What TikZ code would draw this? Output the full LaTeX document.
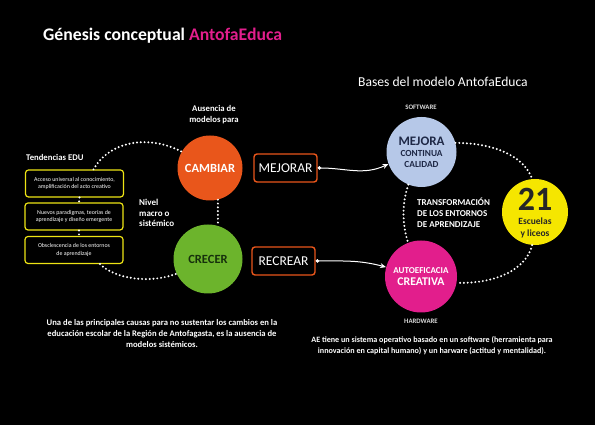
\documentclass[tikz,border=0pt]{standalone}
\usepackage{fontspec}
\setmainfont{Carlito}
\usetikzlibrary{arrows.meta}

\definecolor{naranja}{RGB}{233,86,27}
\definecolor{verde}{RGB}{108,180,44}
\definecolor{celeste}{RGB}{182,200,232}
\definecolor{fucsia}{RGB}{226,30,140}
\definecolor{amarillo}{RGB}{245,230,0}
\definecolor{amarilloborde}{RGB}{238,228,20}
\definecolor{verdeosc}{RGB}{22,48,12}
\definecolor{azulosc}{RGB}{30,40,70}

\newcommand{\tam}[2]{\fontsize{#1}{#2}\selectfont}

\begin{document}
\begin{tikzpicture}[x=1pt, y=1pt,
	every node/.style={inner sep=0pt},
	circulo/.style={circle, align=center},
	caja/.style={draw=naranja, rounded corners=3pt, line width=1.4pt, minimum width=63pt, minimum height=28pt, text=white, font=\tam{13.5}{15}},
	tendencia/.style={draw=amarilloborde, rounded corners=3pt, line width=1.2pt, minimum width=98pt, minimum height=27pt, text=white, align=center, font=\tam{5.9}{7.2}},
	puntos/.style={white, line width=2.2pt, line cap=round, dash pattern=on 0pt off 3.8pt},
	flecha/.style={white, line width=1pt, {Circle[length=3.5pt]}-{Stealth[length=6pt, width=5pt]}},
	etiqueta/.style={text=white, font=\bfseries\tam{9}{10.8}, align=left}]

	\fill[black] (0,0) rectangle (595,425);
	\useasboundingbox (0,0) rectangle (595,425);

	% --- titulos ---
	\node[anchor=base west, text=white, font=\bfseries\tam{17.7}{20}] (titulo) at (43,384) {Génesis conceptual \textcolor{fucsia}{AntofaEduca}};
	\node[anchor=west, text=white, font=\tam{13.6}{15}] (bases) at (358,343) {Bases del modelo AntofaEduca};

	% --- genesis: nivel macro o sistemico ---
	\node[text=white, font=\bfseries\tam{8.7}{11}, align=center] (ausencia) at (214,310) {Ausencia de\\modelos para};
	\node[circulo, fill=naranja, minimum size=65pt, text=white, font=\bfseries\tam{12.5}{14}] (cambiar) at (210,257) {CAMBIAR};
	\node[circulo, fill=verde, minimum size=69pt, text=verdeosc, font=\bfseries\tam{12.5}{14}] (crecer) at (208,166) {CRECER};
	\node[etiqueta, anchor=west] (nivel) at (139,212) {Nivel\\macro o\\sistémico};

	\node[caja] (mejorar) at (285.5,257) {MEJORAR};
	\node[caja] (recrear) at (283.5,164) {RECREAR};

	% --- tendencias EDU ---
	\node[anchor=west, text=white, font=\bfseries\tam{8.7}{10}] (tendencias) at (26,268) {Tendencias EDU};
	\node[tendencia] (acceso) at (74.5,241.5) {Acceso universal al conocimiento,\\amplificación del acto creativo};
	\node[tendencia] (paradigmas) at (74,208.5) {Nuevos paradigmas, teorías de\\aprendizaje y diseño emergente};
	\node[tendencia] (obsolescencia) at (74,175) {Obsclescencia de los entornos\\de aprendizaje};

	\draw[puntos] ([xshift=5pt]acceso.south) -- ([xshift=5pt]paradigmas.north);
	\draw[puntos] ([xshift=5pt]paradigmas.south) -- ([xshift=5pt]obsolescencia.north);
	\draw[puntos] ([xshift=19pt]acceso.north) .. controls (110,285) and (150,290) .. (cambiar.150);
	\draw[puntos] ([xshift=26pt]obsolescencia.south) .. controls (115,146) and (150,141) .. (crecer.205);
	\draw[puntos] (cambiar.-76) -- (cambiar.-76 |- crecer.north);

	% --- bases del modelo ---
	\node[text=white!85!black, font=\bfseries\tam{6.8}{8}] (software) at (421,318) {SOFTWARE};
	\node[circulo, fill=celeste, minimum size=70pt, text=azulosc, font=\bfseries\tam{9.3}{10.5}] (mejora) at (421.5,273) {{\tam{13}{13}MEJORA}\\[1pt]CONTINUA\\CALIDAD};
	\node[circulo, fill=fucsia, minimum size=72pt, text=white, font=\bfseries\tam{9}{12.5}] (autoeficacia) at (421,148.5) {AUTOEFICACIA\\{\tam{11.8}{12.5}CREATIVA}};
	\node[text=white!85!black, font=\bfseries\tam{6.8}{8}] (hardware) at (421,104) {HARDWARE};
	\node[circulo, fill=amarillo, minimum size=66pt] (escuelas) at (535,213) {};
	\node[text=black!85, font=\bfseries\tam{34}{34}] (numero) at (535,226) {21};
	\node[text=black!85, font=\bfseries\tam{9.5}{12.5}, align=center] (liceos) at (535,197) {Escuelas\\y liceos};
	\node[etiqueta, anchor=west] (transformacion) at (417,212) {TRANSFORMACIÓN\\DE LOS ENTORNOS\\DE APRENDIZAJE};

	\draw[puntos] (mejora.15) .. controls (500,282) and (526,265) .. (escuelas.95);
	\draw[puntos] (escuelas.265) .. controls (526,155) and (495,141) .. (autoeficacia.-10);
	\draw[puntos] (mejora.248) .. controls (402,222) and (402,201) .. (autoeficacia.111);

	\draw[flecha] (mejorar.east) to[out=0, in=205] (mejora.200);
	\draw[flecha] (recrear.east) to[out=0, in=165] (autoeficacia.165);

	% --- notas ---
	\node[text=white, font=\bfseries\tam{8.6}{11}, align=center] (nota1) at (162,91) {Una de las principales causas para no sustentar los cambios en la\\educación escolar de la Región de Antofagasta, es la ausencia de\\modelos sistémicos.};
	\node[text=white, font=\bfseries\tam{8.1}{11}, align=center] (nota2) at (432,79.5) {AE tiene un sistema operativo basado en un software (herramienta para\\innovación en capital humano) y un harware (actitud y mentalidad).};
\end{tikzpicture}
\end{document}
